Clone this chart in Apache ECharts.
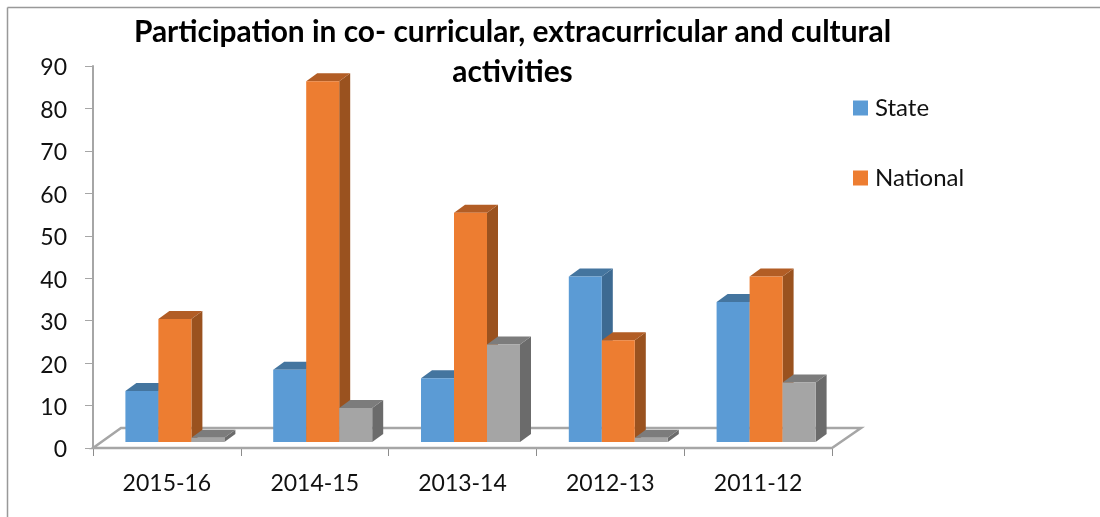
<!DOCTYPE html>
<html>
<head>
<meta charset="utf-8">
<title>Participation</title>
<script src="https://cdn.jsdelivr.net/npm/echarts@6/dist/echarts.min.js"></script>
<style>
  html, body { margin: 0; padding: 0; background: #fff; }
  #main { width: 1100px; height: 517px; }
</style>
</head>
<body>
<div id="main"></div>
<script>
const categories = ['2015-16', '2014-15', '2013-14', '2012-13', '2011-12'];
const stateValues = [12, 17, 15, 39, 33];
const nationalValues = [29, 85, 54, 24, 39];
const thirdValues = [1, 8, 23, 1, 14];

const FONT = 'Lato';
const BAR_W = 33;
const DEPTH_X = 11;
const DEPTH_Y = 8;
const SHIFT_X = 8;   // bars stand a little behind the front edge of the floor
const SHIFT_Y = 6;

// draws one 3d looking bar, slot is -1, 0, 1 for the position inside the group
function bar3d(slot, front, top, side) {
  return function (params, api) {
    const idx = api.value(0);
    const p = api.coord([idx, api.value(1)]);
    const base = api.coord([idx, 0]);
    const x0 = p[0] + SHIFT_X + (slot - 0.5) * BAR_W;
    const x1 = x0 + BAR_W;
    const yTop = p[1] - SHIFT_Y;
    const yBase = base[1] - SHIFT_Y;
    return {
      type: 'group',
      children: [
        { type: 'polygon', shape: { points: [[x1, yTop], [x1 + DEPTH_X, yTop - DEPTH_Y], [x1 + DEPTH_X, yBase - DEPTH_Y], [x1, yBase]] }, style: { fill: side } },
        { type: 'polygon', shape: { points: [[x0, yTop], [x0 + DEPTH_X, yTop - DEPTH_Y], [x1 + DEPTH_X, yTop - DEPTH_Y], [x1, yTop]] }, style: { fill: top } },
        { type: 'rect', shape: { x: x0, y: yTop, width: BAR_W, height: yBase - yTop }, style: { fill: front } }
      ]
    };
  };
}

// floor of the 3d plot
function floor(params, api) {
  const c = params.coordSys;
  const y = c.y + c.height;
  const r = c.x + c.width;
  return {
    type: 'polygon',
    shape: { points: [[c.x, y], [r, y], [r + 29, y - 20], [c.x + 28, y - 20]] },
    style: { fill: 'none', stroke: '#a6a6a6', lineWidth: 2.5 }
  };
}

function makeSeries(name, values, slot, front, top, side) {
  return {
    name: name,
    type: 'custom',
    clip: false,
    z: 3,
    itemStyle: { color: front },
    encode: { x: 0, y: 1 },
    data: values.map((v, i) => [i, v]),
    renderItem: bar3d(slot, front, top, side)
  };
}

const chart = echarts.init(document.getElementById('main'));
chart.setOption({
  animation: false,
  title: {
    text: 'Participation in co- curricular, extracurricular and cultural\nactivities',
    left: 507.5,
    top: 7,
    textAlign: 'center',
    textStyle: { fontFamily: FONT, fontSize: 29.9, fontWeight: 'bold', color: '#000', lineHeight: 40 }
  },
  legend: {
    data: ['State', 'National'],
    orient: 'vertical',
    left: 848,
    top: 91,
    icon: 'rect',
    itemWidth: 15,
    itemHeight: 15,
    itemGap: 46,
    textStyle: { fontFamily: FONT, fontSize: 24, color: '#111', padding: [0, 0, 0, 2] }
  },
  grid: { left: 93, right: 268, top: 66, bottom: 69 },
  xAxis: {
    type: 'category',
    data: categories,
    axisLine: { show: false },
    axisTick: { show: true, length: 8, lineStyle: { color: '#8c8c8c', width: 1 } },
    axisLabel: { fontFamily: FONT, fontSize: 23, color: '#111', margin: 24 }
  },
  yAxis: {
    type: 'value',
    min: 0,
    max: 90,
    interval: 10,
    splitLine: { show: false },
    axisLine: { show: true, lineStyle: { color: '#a6a6a6', width: 2 } },
    axisTick: { show: true, length: 8, lineStyle: { color: '#a6a6a6', width: 1 } },
    axisLabel: {
      margin: 26,
      formatter: '{a|{value}}',
      rich: { a: { fontFamily: FONT, fontSize: 23, color: '#111', padding: [4, 0, 0, 0] } }
    }
  },
  series: [
    { name: 'floor', type: 'custom', z: 1, clip: false, data: [0], renderItem: floor, silent: true },
    makeSeries('State', stateValues, -1, '#5b9bd5', '#44759f', '#3d6a92'),
    makeSeries('National', nationalValues, 0, '#ed7d31', '#b25d25', '#9a521f'),
    makeSeries('Series3', thirdValues, 1, '#a5a5a5', '#7c7c7c', '#6b6b6b')
  ],
  graphic: [
    // thin frame of the chart area, only left and top are inside the picture
    { type: 'line', silent: true, shape: { x1: 7.5, y1: 7.5, x2: 7.5, y2: 517 }, style: { stroke: '#999', lineWidth: 1.5 } },
    { type: 'line', silent: true, shape: { x1: 7.5, y1: 7.5, x2: 1100, y2: 7.5 }, style: { stroke: '#999', lineWidth: 1.5 } }
  ]
});
</script>
</body>
</html>
